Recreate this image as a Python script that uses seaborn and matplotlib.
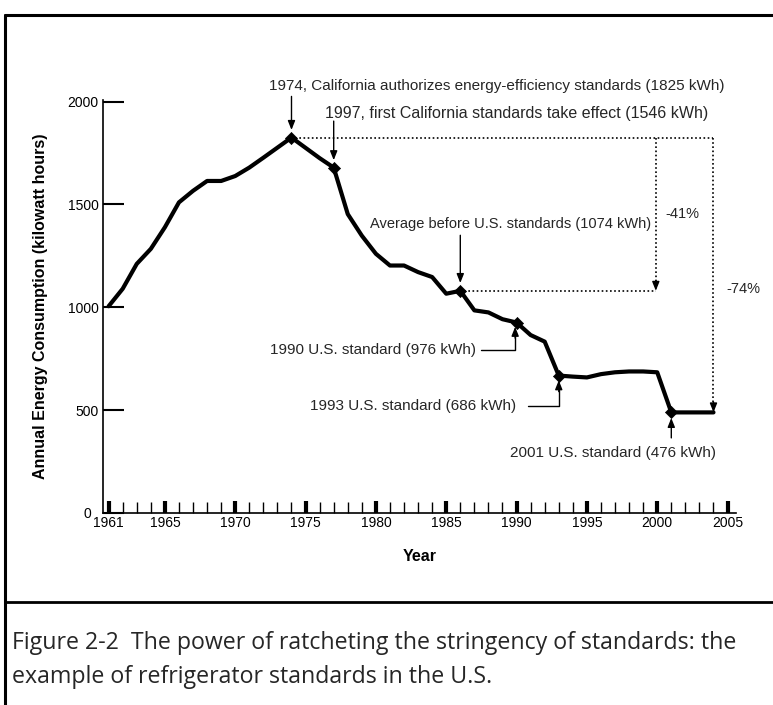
import numpy as np
import pandas as pd
import matplotlib
matplotlib.use("Agg")
import matplotlib.pyplot as plt
import matplotlib.transforms as mtransforms
from matplotlib.lines import Line2D
import seaborn as sns

years = list(range(1961, 2005))
kwh = [1005, 1090, 1211, 1284, 1389, 1510, 1566, 1614, 1614, 1638,
       1679, 1727, 1776, 1825, 1775, 1725, 1679, 1453, 1348, 1260,
       1203, 1203, 1171, 1147, 1066, 1080, 985, 975, 942, 926,
       865, 833, 668, 663, 659, 675, 684, 688, 688, 684,
       489, 489, 489, 489]
key_years = [1974, 1977, 1986, 1990, 1993, 2001]
major_ticks = [1961, 1965, 1970, 1975, 1980, 1985, 1990, 1995, 2000, 2005]
y_ticks = [0, 500, 1000, 1500, 2000]

df = pd.DataFrame({"Year": years, "kWh": kwh})
key_df = df[df["Year"].isin(key_years)]

sns.set_theme(style="white")
plt.rcParams["font.family"] = ["Liberation Sans", "DejaVu Sans"]

W, H = 773, 705
fig = plt.figure(figsize=(W / 100, H / 100), dpi=100)
ax = fig.add_axes([103 / W, 1 - 513 / H, 633 / W, (513 - 99.5) / H])

sns.lineplot(data=df, x="Year", y="kWh", ax=ax, color="black", linewidth=3.0,
             solid_joinstyle="round", solid_capstyle="round")
sns.scatterplot(data=key_df, x="Year", y="kWh", ax=ax, marker="D", color="black",
                s=38, edgecolor="black", zorder=5)

ax.set_xlim(1960.6, 2005.6)
ax.set_ylim(0, 2010)
for s in ["top", "right"]:
    ax.spines[s].set_visible(False)
for s in ["left", "bottom"]:
    ax.spines[s].set_color("black")
    ax.spines[s].set_linewidth(1.2)

ax.set_xticks(major_ticks)
ax.set_xticklabels([str(t) for t in major_ticks], fontsize=10)
ax.set_xticks(list(range(1961, 2006)), minor=True)
ax.tick_params(axis="x", which="major", bottom=True, direction="in", length=9, width=3,
               pad=2, colors="black")
ax.tick_params(axis="x", which="minor", bottom=True, direction="in", length=8, width=1,
               colors="black")
ax.set_yticks(y_ticks)
ax.set_yticklabels([str(t) for t in y_ticks], fontsize=10)
ax.tick_params(axis="y", which="major", left=True, direction="in", length=15, width=1.5,
               pad=3, colors="black")
# nudge the "0" label left so it clears the first year label
zero_lbl = ax.get_yticklabels()[0]
zero_lbl.set_transform(zero_lbl.get_transform() +
                       mtransforms.ScaledTranslation(-8 / 100, 0, fig.dpi_scale_trans))

ax.set_xlabel("Year", fontsize=11.5, fontweight="bold", labelpad=14, color="black")
ax.set_ylabel("Annual Energy Consumption (kilowatt hours)", fontsize=11.5,
              fontweight="bold", labelpad=14, color="black")

fs = 11
arrow = dict(arrowstyle="-|>,head_length=0.45,head_width=0.18", color="black", lw=1.0,
             shrinkA=0, shrinkB=0)

ax.text(1988.6, 2077, "1974, California authorizes energy-efficiency standards (1825 kWh)",
        ha="center", va="center", fontsize=fs, clip_on=False)
ax.annotate("", xy=(1974, 1862), xytext=(1974, 2025), arrowprops=arrow, annotation_clip=False)

ax.text(1990.0, 1941, "1997, first California standards take effect (1546 kWh)",
        ha="center", va="center", fontsize=11.5)
ax.annotate("", xy=(1977, 1715), xytext=(1977, 1905), arrowprops=arrow)

ax.text(1999.6, 1405, "Average before U.S. standards (1074 kWh)",
        ha="right", va="center", fontsize=10.5)
ax.annotate("", xy=(1986, 1118), xytext=(1986, 1350), arrowprops=arrow)

# dotted reference lines
dot = dict(color="black", lw=1.2, linestyle=(0, (1, 1.5)))
ax.plot([1974, 2004], [1825, 1825], **dot)
ax.plot([1986, 1999.9], [1080, 1080], **dot)
ax.plot([1999.9, 1999.9], [1825, 1120], **dot)
ax.plot([2004, 2004], [1825, 530], **dot)
dotarrow = dict(arrowstyle="-|>,head_length=0.45,head_width=0.18", color="black", lw=1.0,
                shrinkA=0, shrinkB=0)
ax.annotate("", xy=(1999.9, 1080), xytext=(1999.9, 1130), arrowprops=dotarrow)
ax.annotate("", xy=(2004, 489), xytext=(2004, 540), arrowprops=dotarrow)

ax.text(2000.6, 1453, "-41%", ha="left", va="center", fontsize=10.5)
ax.text(2004.9, 1090, "-74%", ha="left", va="center", fontsize=10.5, clip_on=False)

# U.S. standards
ax.text(1987.1, 791, "1990 U.S. standard (976 kWh)", ha="right", va="center", fontsize=fs)
ax.plot([1987.5, 1989.9, 1989.9], [791, 791, 860], color="black", lw=1.0)
ax.annotate("", xy=(1989.9, 905), xytext=(1989.9, 850), arrowprops=arrow)

ax.text(1990.0, 520, "1993 U.S. standard (686 kWh)", ha="right", va="center", fontsize=fs)
ax.plot([1990.8, 1993, 1993], [520, 520, 600], color="black", lw=1.0)
ax.annotate("", xy=(1993, 645), xytext=(1993, 590), arrowprops=arrow)

ax.text(1996.85, 292, "2001 U.S. standard (476 kWh)", ha="center", va="center", fontsize=fs)
ax.annotate("", xy=(2001, 462), xytext=(2001, 365), arrowprops=arrow)

# frame and caption box
def fx(px):
    return px / W

def fy(py):
    return 1 - py / H

for (x0, y0, x1, y1, lw) in [(5, 15, 773, 15, 2.2), (5, 15, 5, 705, 2.2), (5, 602, 773, 602, 2.0)]:
    fig.add_artist(Line2D([fx(x0), fx(x1)], [fy(y0), fy(y1)], color="black", lw=lw,
                          transform=fig.transFigure))

cap_font = ["Open Sans", "DejaVu Sans"]
fig.text(fx(12), fy(643), "Figure 2-2  The power of ratcheting the stringency of standards: the",
         ha="left", va="center", fontsize=16.7, family=cap_font)
fig.text(fx(12), fy(677), "example of refrigerator standards in the U.S.",
         ha="left", va="center", fontsize=16.7, family=cap_font)

fig.savefig("out.png", dpi=100, facecolor="white")
